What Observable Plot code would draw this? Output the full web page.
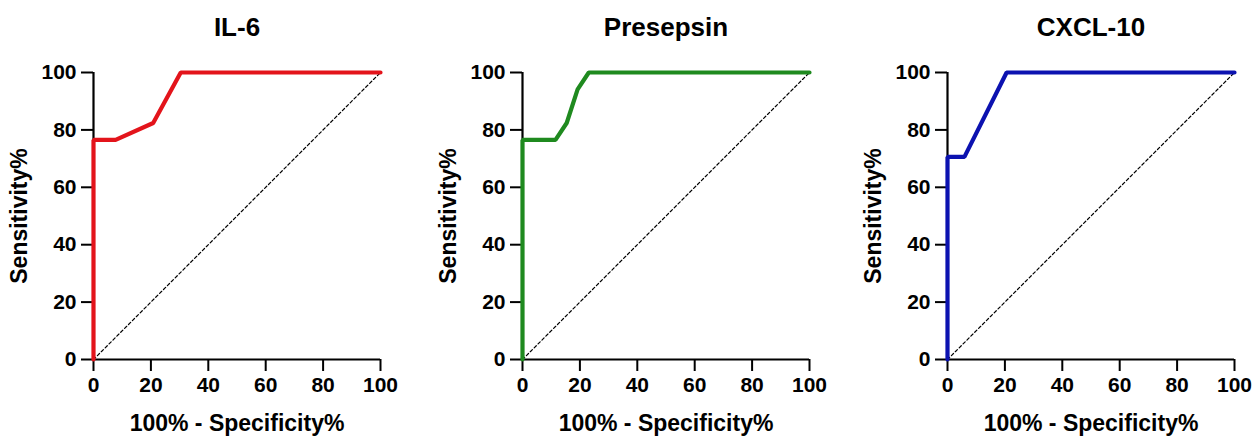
<!DOCTYPE html>
<html><head><meta charset="utf-8">
<script src="https://cdn.jsdelivr.net/npm/d3@7"></script>
<script src="https://cdn.jsdelivr.net/npm/@observablehq/plot@0.6"></script>
<style>
body{margin:0;background:#fff;}
#row{display:flex;width:1253px;height:436px;overflow:hidden;}
#row svg{font-family:"Liberation Sans",Arial,sans-serif;}
</style></head><body><div id="row"></div>
<script>
// ---- data ----
const titles = ["IL-6", "Presepsin", "CXCL-10"];
const il6X = [0, 0, 7.7, 20.8, 30.4, 100];
const il6Y = [0, 76.5, 76.5, 82.4, 100, 100];
const presepsinX = [0, 0, 11.5, 15.4, 19.2, 23.1, 100];
const presepsinY = [0, 76.5, 76.5, 82.4, 94.1, 100, 100];
const cxcl10X = [0, 0, 5.9, 20.6, 100];
const cxcl10Y = [0, 70.6, 70.6, 100, 100];
const refLine = [0, 100];
const tickValues = [0, 20, 40, 60, 80, 100];
const xLabel = "100% - Specificity%";
const yLabel = "Sensitivity%";

// ---- styles / layout ----
const colors = ["#e3141b", "#1f8a1f", "#0c12b0"];
const layout = [
  {width: 418, ml: 93, mr: 38},
  {width: 418, ml: 104, mr: 27},
  {width: 417, ml: 111, mr: 19}
];
const series = [[il6X, il6Y], [presepsinX, presepsinY], [cxcl10X, cxcl10Y]];

const row = document.getElementById("row");
series.forEach(([xs, ys], i) => {
  const data = xs.map((x, j) => ({x, y: ys[j]}));
  const diag = refLine.map(v => ({x: v, y: v}));
  const L = layout[i];
  const chart = Plot.plot({
    width: L.width, height: 436,
    marginLeft: L.ml, marginRight: L.mr, marginTop: 72, marginBottom: 77,
    x: {domain: [0, 100]},
    y: {domain: [0, 100]},
    style: {fontFamily: "'Liberation Sans', Arial, sans-serif", color: "#000", background: "#fff", overflow: "visible"},
    marks: [
      Plot.line(diag, {x: "x", y: "y", stroke: "#000", strokeWidth: 1.2, strokeDasharray: "3,2.5"}),
      Plot.axisX({ticks: tickValues, tickSize: 12, tickPadding: 6, strokeWidth: 2, label: null, fontSize: 21, fontWeight: "bold"}),
      Plot.axisY({ticks: tickValues, tickSize: 12, tickPadding: 5, strokeWidth: 2, label: null, fontSize: 21, fontWeight: "bold"}),
      Plot.ruleX([0], {stroke: "#000", strokeWidth: 2.2}),
      Plot.ruleY([0], {stroke: "#000", strokeWidth: 2.2}),
      Plot.line(data, {x: "x", y: "y", stroke: colors[i], strokeWidth: 4.2, strokeLinejoin: "miter"}),
      Plot.text([titles[i]], {text: d => d, frameAnchor: "top", lineAnchor: "middle", textAnchor: "middle", dy: -45, fontSize: 26, fontWeight: "bold", fill: "#000"}),
      Plot.text([xLabel], {text: d => d, frameAnchor: "bottom", lineAnchor: "middle", textAnchor: "middle", dy: 64, fontSize: 23, fontWeight: "bold", fill: "#000"}),
      Plot.text([yLabel], {text: d => d, frameAnchor: "left", lineAnchor: "middle", textAnchor: "middle", dx: -74, rotate: -90, fontSize: 23, fontWeight: "bold", fill: "#000"})
    ]
  });
  row.appendChild(chart);
});
</script></body></html>
